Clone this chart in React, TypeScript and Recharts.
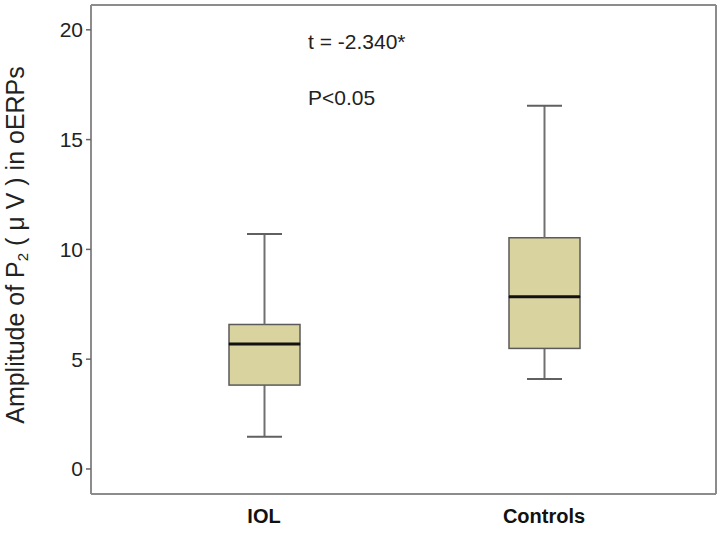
import React from 'react';
import { ComposedChart, Bar, XAxis, YAxis } from 'recharts';

const categories = ['IOL', 'Controls'];
const mins = [1.47, 4.1];
const q1s = [3.82, 5.49];
const medians = [5.69, 7.84];
const q3s = [6.58, 10.53];
const maxs = [10.7, 16.54];
const yTicks = [0, 5, 10, 15, 20];

const data = categories.map((name, i) => ({
  name,
  base: mins[i],
  lowWhisker: q1s[i] - mins[i],
  lowBox: medians[i] - q1s[i],
  highBox: q3s[i] - medians[i],
  highWhisker: maxs[i] - q3s[i],
}));

const FONT = '"Liberation Sans", Arial, Helvetica, sans-serif';
const WHISKER = '#707070';
const BOX_STROKE = '#5a5a5a';
const FILL = '#d9d3a0';
const FRAME = '#8c8c8c';
const CAP = 35;

const LowWhisker = (p: any) => {
  const cx = p.x + p.width / 2;
  return (
    <g>
      <line x1={cx} x2={cx} y1={p.y} y2={p.y + p.height} stroke={WHISKER} strokeWidth={2} />
      <line x1={cx - CAP / 2} x2={cx + CAP / 2} y1={p.y + p.height} y2={p.y + p.height} stroke={'#606060'} strokeWidth={2} />
    </g>
  );
};

const HighWhisker = (p: any) => {
  const cx = p.x + p.width / 2;
  return (
    <g>
      <line x1={cx} x2={cx} y1={p.y} y2={p.y + p.height} stroke={WHISKER} strokeWidth={2} />
      <line x1={cx - CAP / 2} x2={cx + CAP / 2} y1={p.y} y2={p.y} stroke={'#606060'} strokeWidth={2} />
    </g>
  );
};

const LowBox = (p: any) => (
  <rect x={p.x} y={p.y} width={p.width} height={p.height} fill={FILL} stroke={BOX_STROKE} strokeWidth={1.5} />
);

const HighBox = (p: any) => (
  <g>
    <rect x={p.x} y={p.y} width={p.width} height={p.height} fill={FILL} stroke={BOX_STROKE} strokeWidth={1.5} />
    <line x1={p.x} x2={p.x + p.width} y1={p.y + p.height} y2={p.y + p.height} stroke="#111" strokeWidth={3} />
  </g>
);

const YLabel = () => (
  <text
    x={15}
    y={245}
    transform="rotate(-90 15 245)"
    textAnchor="middle"
    dominantBaseline="central"
    fontFamily={FONT}
    fontSize={25}
    fill="#222"
    style={{ whiteSpace: 'pre' }}
  >
    Amplitude of P<tspan fontSize={15} dy={7}>2</tspan>
    <tspan dy={-7}>{' ( μ V ) in oERPs'}</tspan>
  </text>
);

export default function App() {
  return (
    <div style={{ position: 'absolute', left: 0, top: 0, width: 720, height: 534, background: '#fff' }}>
      <ComposedChart
        width={720}
        height={534}
        data={data}
        margin={{ top: 4, right: 3, bottom: 0, left: 31 }}
        barSize={71}
      >
        <XAxis
          dataKey="name"
          height={40}
          padding={{ left: 33, right: 32 }}
          axisLine={{ stroke: FRAME, strokeWidth: 2 }}
          tickLine={false}
          tickSize={0}
          tickMargin={15}
          tick={{ fontFamily: FONT, fontSize: 20, fontWeight: 'bold', fill: '#111' }}
        />
        <XAxis
          xAxisId="top"
          orientation="top"
          dataKey="name"
          height={1}
          axisLine={{ stroke: FRAME, strokeWidth: 2 }}
          tick={false}
          tickLine={false}
        />
        <YAxis
          type="number"
          domain={[-1.14, 21.13]}
          ticks={yTicks}
          width={60}
          allowDataOverflow
          axisLine={{ stroke: FRAME, strokeWidth: 2 }}
          tickLine={{ stroke: '#666', strokeWidth: 1.5 }}
          tickSize={5}
          tickMargin={3}
          tick={{ fontFamily: FONT, fontSize: 21, fill: '#222' }}
          label={{ content: () => <YLabel /> }}
        />
        <YAxis
          yAxisId="right"
          orientation="right"
          type="number"
          domain={[-1.14, 21.13]}
          width={1}
          axisLine={{ stroke: FRAME, strokeWidth: 2 }}
          tick={false}
          tickLine={false}
        />
        <Bar dataKey="base" stackId="b" fill="transparent" isAnimationActive={false} />
        <Bar dataKey="lowWhisker" stackId="b" shape={LowWhisker} isAnimationActive={false} />
        <Bar dataKey="lowBox" stackId="b" shape={LowBox} isAnimationActive={false} />
        <Bar dataKey="highBox" stackId="b" shape={HighBox} isAnimationActive={false} />
        <Bar dataKey="highWhisker" stackId="b" shape={HighWhisker} isAnimationActive={false} />
        <Bar
          dataKey="base"
          xAxisId="top"
          yAxisId="right"
          fill="none"
          stroke="none"
          isAnimationActive={false}
        />
      </ComposedChart>
      <div style={{ position: 'absolute', left: 308, top: 29, fontFamily: FONT, fontSize: 21, color: '#222', lineHeight: '26px' }}>
        t = -2.340*
      </div>
      <div style={{ position: 'absolute', left: 308, top: 85, fontFamily: FONT, fontSize: 21, color: '#222', lineHeight: '26px' }}>
        P&lt;0.05
      </div>
    </div>
  );
}
